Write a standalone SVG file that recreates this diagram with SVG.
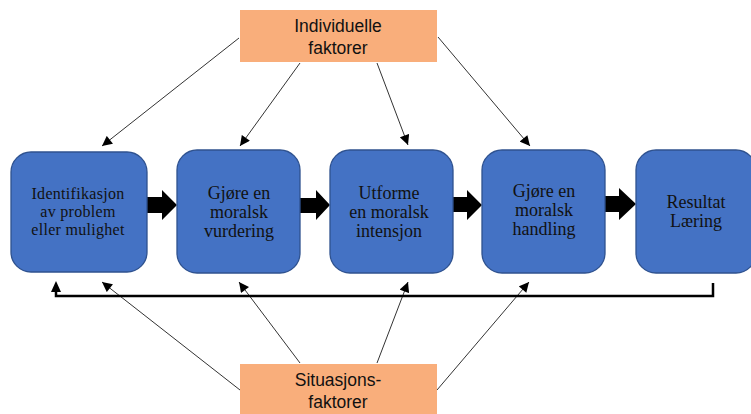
<svg xmlns="http://www.w3.org/2000/svg" width="751" height="414" viewBox="0 0 751 414">
<defs>
<style>
.step{fill:#4472C4;stroke:#2F528F;stroke-width:1.3}
.fac{fill:#F9AE7B}
.st{font-family:"Liberation Serif","Times New Roman",serif;font-size:18px;fill:#111;text-anchor:middle}
.st1{font-size:16px;letter-spacing:0.3px}
.ft{font-family:"Liberation Sans",Arial,sans-serif;font-size:17.5px;fill:#111;text-anchor:middle}
.thin{stroke:#333;stroke-width:1;fill:none;marker-end:url(#ah)}
.fb{stroke:#000;stroke-width:2.5;fill:none}
.blk{fill:#000}
</style>
<marker id="ah" viewBox="0 0 10 10" refX="10" refY="5" markerWidth="11" markerHeight="10" markerUnits="userSpaceOnUse" orient="auto">
<path d="M0,0 L10,5 L0,10 z" fill="#000"/>
</marker>
</defs>
<rect width="751" height="414" fill="#fff"/>
<g id="connectors">
<line class="thin" x1="239" y1="38" x2="102" y2="146"/>
<line class="thin" x1="300" y1="63" x2="240" y2="146"/>
<line class="thin" x1="377" y1="63" x2="408" y2="145"/>
<line class="thin" x1="438" y1="37" x2="530" y2="146"/>
<line class="thin" x1="240" y1="390" x2="102" y2="282"/>
<line class="thin" x1="300" y1="363" x2="239" y2="282"/>
<line class="thin" x1="377" y1="363" x2="408" y2="282"/>
<line class="thin" x1="437" y1="390" x2="529" y2="282"/>
<path class="fb" d="M713,283 V296 H56 V290"/>
<path class="blk" d="M51,292 L56,281 L61,292 z"/>
<path class="blk" d="M147,197 H162 V190 L177,205 L162,220 V213 H147 z"/>
<path class="blk" d="M300,198 H316 V190 L330,205 L316,220 V213 H300 z"/>
<path class="blk" d="M453,197 H467 V190 L482,205 L467,220 V212 H453 z"/>
<path class="blk" d="M605,196 H619 V188 L636,204 L619,220 V212 H605 z"/>
</g>
<g id="individuelle">
<rect class="fac" x="240" y="10" width="197" height="52"/>
<text class="ft" x="338" y="32">Individuelle</text>
<text class="ft" x="338" y="54">faktorer</text>
</g>
<g id="situasjons">
<rect class="fac" x="240" y="364" width="197" height="52"/>
<text class="ft" x="338" y="386">Situasjons-</text>
<text class="ft" x="338" y="408">faktorer</text>
</g>
<g id="identifikasjon">
<rect class="step" x="11" y="152" width="136" height="120" rx="20"/>
<text class="st st1" x="78" y="199">Identifikasjon</text>
<text class="st st1" x="78" y="217">av problem</text>
<text class="st st1" x="78" y="235">eller mulighet</text>
</g>
<g id="vurdering">
<rect class="step" x="177" y="150" width="123" height="123" rx="20"/>
<text class="st" x="239" y="199">Gjøre en</text>
<text class="st" x="239" y="218">moralsk</text>
<text class="st" x="239" y="237">vurdering</text>
</g>
<g id="intensjon">
<rect class="step" x="330" y="150" width="123" height="123" rx="20"/>
<text class="st" x="389" y="199">Utforme</text>
<text class="st" x="389" y="218">en moralsk</text>
<text class="st" x="389" y="237">intensjon</text>
</g>
<g id="handling">
<rect class="step" x="482" y="150" width="123" height="123" rx="20"/>
<text class="st" x="544" y="197">Gjøre en</text>
<text class="st" x="544" y="216">moralsk</text>
<text class="st" x="544" y="235">handling</text>
</g>
<g id="resultat">
<rect class="step" x="636" y="150" width="120" height="123" rx="20"/>
<text class="st" x="696" y="208">Resultat</text>
<text class="st" x="696" y="227">Læring</text>
</g>
</svg>
